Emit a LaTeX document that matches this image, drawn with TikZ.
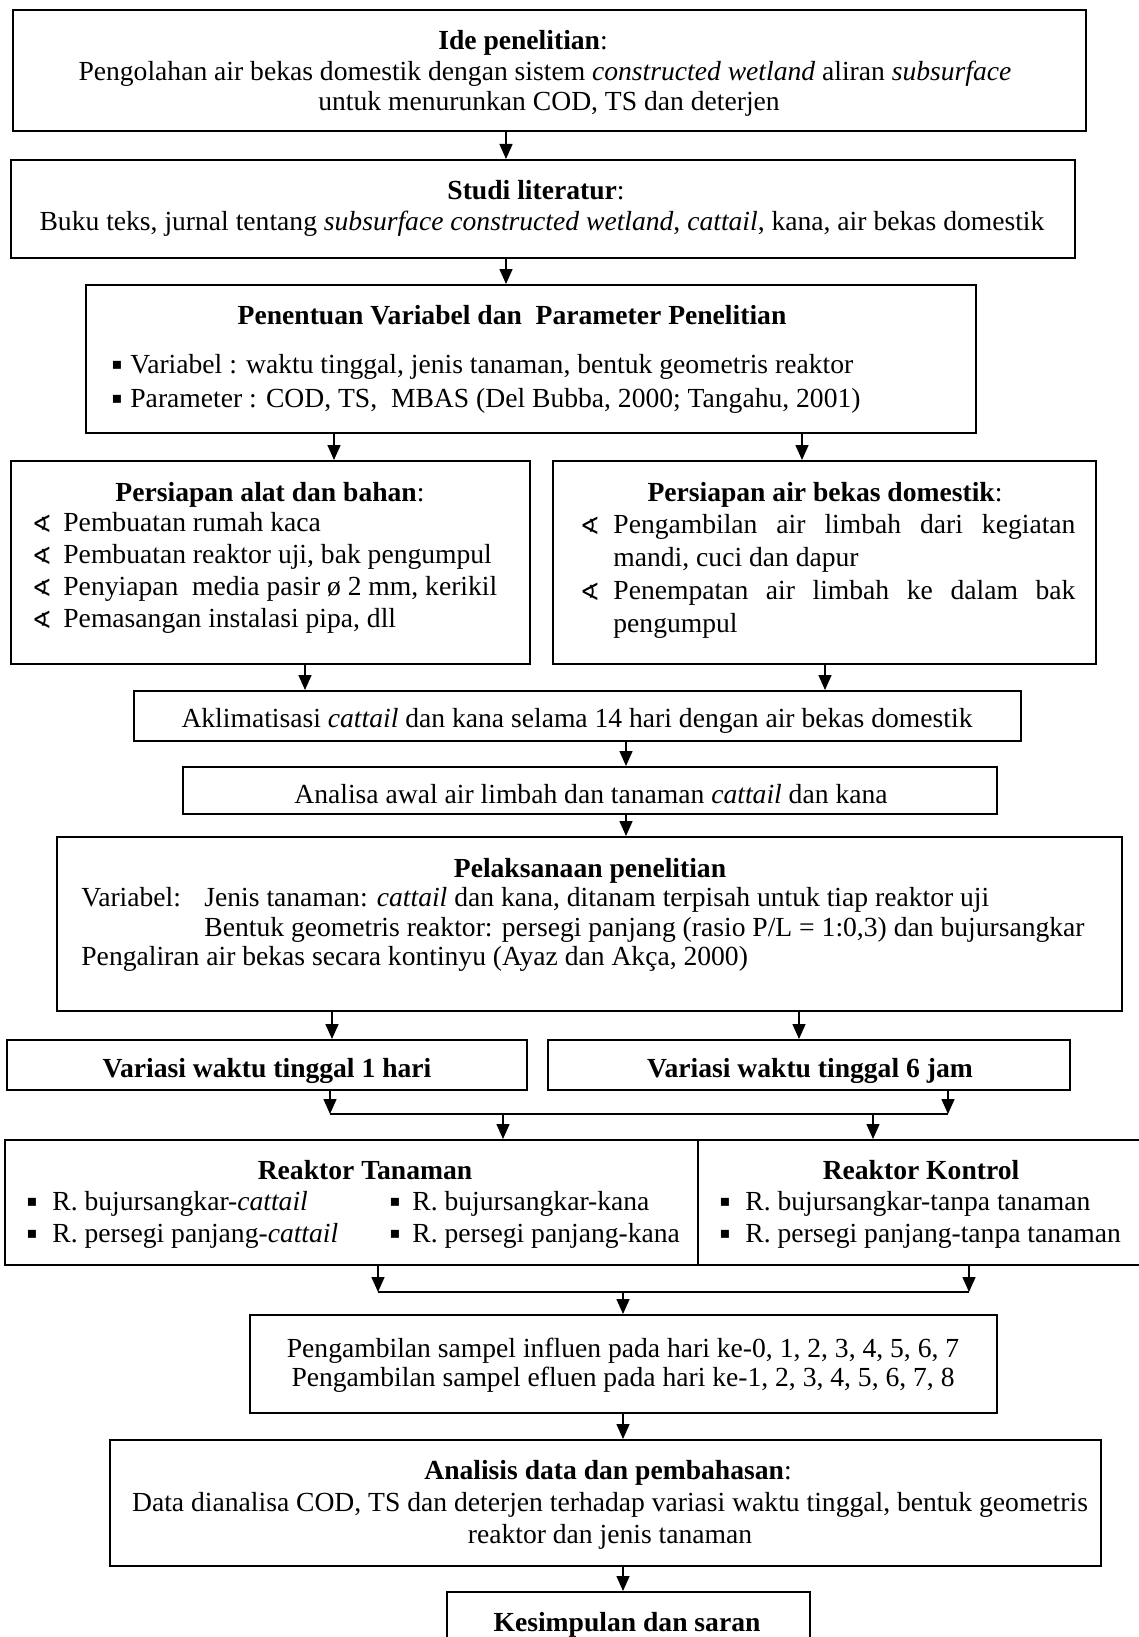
\documentclass[tikz,border=0pt]{standalone}
\usepackage{fontspec}
\setmainfont{Liberation Serif}
\newfontfamily\symf{DejaVu Sans}
\usetikzlibrary{arrows.meta,fit}
\begin{document}
\begin{tikzpicture}[x=0.5pt,y=-0.5pt,
  box/.style={draw=black, line width=1pt, inner sep=0pt, rectangle},
  txt/.style={inner sep=0pt, yshift=-1.5pt, font=\fontsize{13.8}{15.5}\selectfont, text height=10pt, text depth=3pt},
  bul/.style={inner sep=0pt, yshift=-1pt, font=\symf\fontsize{8}{9}\selectfont},
  ang/.style={inner sep=0pt, yshift=-1.5pt, font=\symf\fontsize{12}{13}\selectfont},
  arr/.style={line width=0.75pt, -{Triangle[length=7.5pt,width=6.5pt]}},
  ln/.style={line width=0.75pt}]
\fill[white] (0,0) rectangle (1139,1637);
\useasboundingbox (0,0) rectangle (1139,1637);

% ---------- boxes ----------
\node[box, fit={(12.5,10.5) (1086,131.5)}] (b1) {};
\node[box, fit={(10.5,160) (1075,258)}] (b2) {};
\node[box, fit={(86,285) (976,433)}] (b3) {};
\node[box, fit={(10.5,461) (530,664)}] (b4a) {};
\node[box, fit={(553,461) (1096,664)}] (b4b) {};
\node[box, fit={(134,691) (1021,741)}] (b5) {};
\node[box, fit={(183,767) (997,814)}] (b6) {};
\node[box, fit={(57,837) (1122,1011)}] (b7) {};
\node[box, fit={(7,1040) (527,1090)}] (b8a) {};
\node[box, fit={(548,1040) (1070,1090)}] (b8b) {};
\node[box, fit={(5,1140) (1150,1265)}] (b9) {};
\node[box, fit={(250,1315) (997,1413)}] (b10) {};
\node[box, fit={(110,1440) (1101,1566)}] (b11) {};
\node[box, fit={(447,1592) (810,1680)}] (b12) {};
\coordinate (dv) at (698,0);
\draw[line width=1pt] (b9.north -| dv) -- (b9.south -| dv);

% ---------- texts ----------
\node[txt] (t1a) at (523,40) {\textbf{Ide penelitian}:};
\node[txt] (t1b) at (545,71) {Pengolahan air bekas domestik dengan sistem \textit{constructed wetland} aliran \textit{subsurface}};
\node[txt] (t1c) at (549,101) {untuk menurunkan COD, TS dan deterjen};

\node[txt] (t2a) at (536,190) {\textbf{Studi literatur}:};
\node[txt] (t2b) at (542,221) {Buku teks, jurnal tentang \textit{subsurface constructed wetland}, \textit{cattail}, kana, air bekas domestik};

\node[txt] (t3a) at (512,314) {\textbf{Penentuan Variabel dan\ \ Parameter Penelitian}};
\node[bul] (t3b1) at (117,363) {▪};
\node[txt, anchor=west] (t3b) at (130,363) {Variabel : waktu tinggal, jenis tanaman, bentuk geometris reaktor};
\node[bul] (t3c1) at (117,397) {▪};
\node[txt, anchor=west] (t3c) at (130,397) {Parameter : COD, TS,\ \ MBAS (Del Bubba, 2000; Tangahu, 2001)};

\node[txt] (t4a) at (270,491) {\textbf{Persiapan alat dan bahan}:};
\node[ang] (t4a1s) at (42,521) {∢};
\node[txt, anchor=west] (t4a1) at (63,521) {Pembuatan rumah kaca};
\node[ang] (t4a2s) at (42,553) {∢};
\node[txt, anchor=west] (t4a2) at (63,553) {Pembuatan reaktor uji, bak pengumpul};
\node[ang] (t4a3s) at (42,585) {∢};
\node[txt, anchor=west] (t4a3) at (63,585) {Penyiapan\ \ media pasir ø 2 mm, kerikil};
\node[ang] (t4a4s) at (42,617) {∢};
\node[txt, anchor=west] (t4a4) at (63,617) {Pemasangan instalasi pipa, dll};

\node[txt] (t4b) at (825,491) {\textbf{Persiapan air bekas domestik}:};
\node[ang] (t4b1s) at (590,523) {∢};
\node[txt, anchor=west] (t4b1) at (613,523) {\makebox[231pt][s]{Pengambilan air limbah dari kegiatan}};
\node[txt, anchor=west] (t4b2) at (613,556) {mandi, cuci dan dapur};
\node[ang] (t4b3s) at (590,589) {∢};
\node[txt, anchor=west] (t4b3) at (613,589) {\makebox[231pt][s]{Penempatan air limbah ke dalam bak}};
\node[txt, anchor=west] (t4b4) at (613,622) {pengumpul};

\node[txt] (t5) at (577,717) {Aklimatisasi \textit{cattail} dan kana selama 14 hari dengan air bekas domestik};
\node[txt] (t6) at (591,793) {Analisa awal air limbah dan tanaman \textit{cattail} dan kana};

\node[txt] (t7a) at (590,867) {\textbf{Pelaksanaan penelitian}};
\node[txt, anchor=west] (t7b) at (81,896) {Variabel:};
\node[txt, anchor=west] (t7c) at (204,896) {Jenis tanaman: \textit{cattail} dan kana, ditanam terpisah untuk tiap reaktor uji};
\node[txt, anchor=west] (t7d) at (204,926) {Bentuk geometris reaktor: persegi panjang (rasio P/L = 1:0,3) dan bujursangkar};
\node[txt, anchor=west] (t7e) at (81,955) {Pengaliran air bekas secara kontinyu (Ayaz dan Akça, 2000)};

\node[txt] (t8a) at (267,1067) {\textbf{Variasi waktu tinggal 1 hari}};
\node[txt] (t8b) at (810,1067) {\textbf{Variasi waktu tinggal 6 jam}};

\node[txt] (t9a) at (365,1169) {\textbf{Reaktor Tanaman}};
\node[bul] (t9a1s) at (32,1200) {▪};
\node[txt, anchor=west] (t9a1) at (52,1200) {R. bujursangkar-\textit{cattail}};
\node[bul] (t9a2s) at (32,1232) {▪};
\node[txt, anchor=west] (t9a2) at (52,1232) {R. persegi panjang-\textit{cattail}};
\node[bul] (t9a3s) at (395,1200) {▪};
\node[txt, anchor=west] (t9a3) at (412,1200) {R. bujursangkar-kana};
\node[bul] (t9a4s) at (395,1232) {▪};
\node[txt, anchor=west] (t9a4) at (412,1232) {R. persegi panjang-kana};
\node[txt] (t9b) at (921,1169) {\textbf{Reaktor Kontrol}};
\node[bul] (t9b1s) at (725,1200) {▪};
\node[txt, anchor=west] (t9b1) at (745,1200) {R. bujursangkar-tanpa tanaman};
\node[bul] (t9b2s) at (725,1232) {▪};
\node[txt, anchor=west] (t9b2) at (745,1232) {R. persegi panjang-tanpa tanaman};

\node[txt] (t10a) at (623,1347) {Pengambilan sampel influen pada hari ke-0, 1, 2, 3, 4, 5, 6, 7};
\node[txt] (t10b) at (623,1376) {Pengambilan sampel efluen pada hari ke-1, 2, 3, 4, 5, 6, 7, 8};

\node[txt] (t11a) at (608,1469) {\textbf{Analisis data dan pembahasan}:};
\node[txt] (t11b) at (610,1501) {Data dianalisa COD, TS dan deterjen terhadap variasi waktu tinggal, bentuk geometris};
\node[txt] (t11c) at (610,1533) {reaktor dan jenis tanaman};

\node[txt] (t12) at (627,1621) {\textbf{Kesimpulan dan saran}};

% ---------- connectors ----------
\coordinate (c1) at (506,0);
\coordinate (c3) at (334,0);
\coordinate (c4) at (802,0);
\coordinate (c5) at (305,0);
\coordinate (c6) at (825,0);
\coordinate (c7) at (626,0);
\coordinate (c9) at (332,0);
\coordinate (c10) at (799,0);
\coordinate (j1) at (330,1114);
\coordinate (j2) at (948,1114);
\coordinate (c13) at (503,0);
\coordinate (c14) at (873,0);
\coordinate (k1) at (378,1292);
\coordinate (k2) at (969,1292);
\coordinate (c17) at (623,0);

\draw[arr] (b1.south -| c1) -- (b2.north -| c1);
\draw[arr] (b2.south -| c1) -- (b3.north -| c1);
\draw[arr] (b3.south -| c3) -- (b4a.north -| c3);
\draw[arr] (b3.south -| c4) -- (b4b.north -| c4);
\draw[arr] (b4a.south -| c5) -- (b5.north -| c5);
\draw[arr] (b4b.south -| c6) -- (b5.north -| c6);
\draw[arr] (b5.south -| c7) -- (b6.north -| c7);
\draw[arr] (b6.south -| c7) -- (b7.north -| c7);
\draw[arr] (b7.south -| c9) -- (b8a.north -| c9);
\draw[arr] (b7.south -| c10) -- (b8b.north -| c10);
\draw[arr] (b8a.south -| j1) -- (j1);
\draw[arr] (b8b.south -| j2) -- (j2);
\draw[ln] (j1) -- (j2);
\draw[arr] (j1 -| c13) -- (b9.north -| c13);
\draw[arr] (j1 -| c14) -- (b9.north -| c14);
\draw[arr] (b9.south -| k1) -- (k1);
\draw[arr] (b9.south -| k2) -- (k2);
\draw[ln] (k1) -- (k2);
\draw[arr] (k1 -| c17) -- (b10.north -| c17);
\draw[arr] (b10.south -| c17) -- (b11.north -| c17);
\draw[arr] (b11.south -| c17) -- (b12.north -| c17);
\end{tikzpicture}
\end{document}
